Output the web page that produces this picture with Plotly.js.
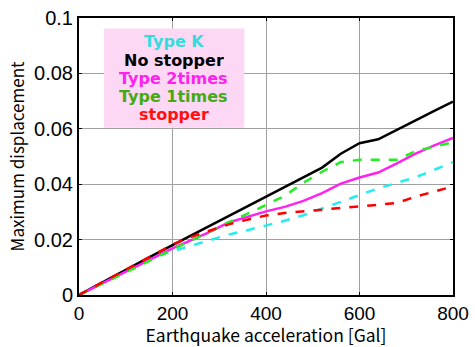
<!DOCTYPE html>
<html>
<head>
<meta charset="utf-8">
<script src="https://cdn.plot.ly/plotly-3.0.1.min.js"></script>
<style>html,body{margin:0;padding:0;background:#fff;}#chart{width:475px;height:347px;}</style>
</head>
<body>
<div id="chart"></div>
<script>
const accel = [0,40,80,120,160,200,240,280,320,360,400,440,480,520,560,600,640,680,720,760,800];
const typeK     = [0,0.0036,0.0072,0.0106,0.0138,0.0158,0.0177,0.0196,0.0218,0.0234,0.0250,0.0268,0.0288,0.0312,0.0338,0.0362,0.0385,0.0405,0.0425,0.0452,0.0480];
const noStopper = [0,0.0037,0.0073,0.0110,0.0145,0.0180,0.0215,0.0250,0.0285,0.0320,0.0356,0.0390,0.0425,0.0460,0.0510,0.0548,0.0562,0.0595,0.0630,0.0665,0.0698];
const type2     = [0,0.0034,0.0068,0.0102,0.0136,0.0168,0.0198,0.0228,0.0262,0.0282,0.0302,0.0318,0.0340,0.0368,0.0402,0.0424,0.0442,0.0475,0.0510,0.0540,0.0567];
const type1     = [0,0.0033,0.0066,0.0099,0.0132,0.0165,0.0198,0.0230,0.0262,0.0293,0.0325,0.0358,0.0405,0.0445,0.0480,0.0488,0.0488,0.0488,0.0520,0.0535,0.0551];
const stopper   = [0,0.0037,0.0074,0.0111,0.0148,0.0182,0.0210,0.0232,0.0255,0.0272,0.0287,0.0296,0.0302,0.0308,0.0312,0.0318,0.0325,0.0332,0.0355,0.0373,0.0392];

const names  = ['Type K','No stopper','Type 2times','Type 1times','stopper'];
const xTicks = [0,200,400,600,800];
const yTicks = [0,0.02,0.04,0.06,0.08,0.1];
const yTickText = ['0','0.02','0.04','0.06','0.08','0.1'];

const traces = [
  {x: accel, y: typeK,     name: names[0], line: {color: '#22EEEE', width: 2.5, dash: 'dash'}},
  {x: accel, y: noStopper, name: names[1], line: {color: '#000000', width: 2.5}},
  {x: accel, y: type2,     name: names[2], line: {color: '#FF22EE', width: 2.5}},
  {x: accel, y: type1,     name: names[3], line: {color: '#22EE22', width: 2.5, dash: 'dash'}},
  {x: accel, y: stopper,   name: names[4], line: {color: '#FF0000', width: 2.5, dash: 'dash'}}
].map(t => Object.assign({type: 'scatter', mode: 'lines', hoverinfo: 'skip'}, t));

const legendColors = ['#33DDDD','#000000','#FF22EE','#44AA11','#FF1111'];
const legendY = [0.915, 0.847, 0.782, 0.717, 0.652];
const legendAnnotations = names.map((n, i) => ({
  xref: 'paper', yref: 'paper', x: 0.254, y: legendY[i], xanchor: 'center', yanchor: 'middle',
  text: '<b>' + n + '</b>', showarrow: false, height: 17, borderpad: 0, valign: 'middle',
  font: {size: 16, family: 'DejaVu Sans, Verdana, sans-serif', color: legendColors[i]}
}));

const layout = {
  width: 475, height: 347,
  margin: {l: 79, r: 22, t: 18, b: 52},
  paper_bgcolor: '#ffffff', plot_bgcolor: '#ffffff',
  showlegend: false,
  font: {family: 'Liberation Sans, Arial, sans-serif', color: '#000'},
  xaxis: {
    range: [0, 800], tickvals: xTicks, ticktext: xTicks.map(String),
    showgrid: true, gridcolor: '#a0a0a0', gridwidth: 1, zeroline: false,
    showline: true, linecolor: '#000', linewidth: 2, mirror: 'ticks',
    ticks: 'inside', ticklen: 3, tickcolor: '#000',
    tickfont: {size: 19, family: 'Liberation Sans, Arial, sans-serif'},
    title: {text: 'Earthquake acceleration [Gal]', font: {size: 17.5, family: 'Noto Sans CJK JP, sans-serif'}, standoff: 8}
  },
  yaxis: {
    range: [0, 0.1], tickvals: yTicks, ticktext: yTickText,
    showgrid: true, gridcolor: '#a0a0a0', gridwidth: 1, zeroline: false,
    showline: true, linecolor: '#000', linewidth: 2, mirror: 'ticks',
    ticks: 'inside', ticklen: 3, tickcolor: '#000',
    tickfont: {size: 20, family: 'Liberation Sans, Arial, sans-serif'},
    title: {text: 'Maximum displacement', font: {size: 17, family: 'Noto Sans CJK JP, sans-serif'}, standoff: 5}
  },
  shapes: [{
    type: 'rect', xref: 'paper', yref: 'paper', x0: 0.067, x1: 0.442, y0: 0.604, y1: 0.962,
    fillcolor: '#FCD8F4', line: {width: 0}, layer: 'above'
  }],
  annotations: legendAnnotations
};

Plotly.newPlot('chart', traces, layout, {staticPlot: true, displayModeBar: false});
</script>
</body>
</html>
